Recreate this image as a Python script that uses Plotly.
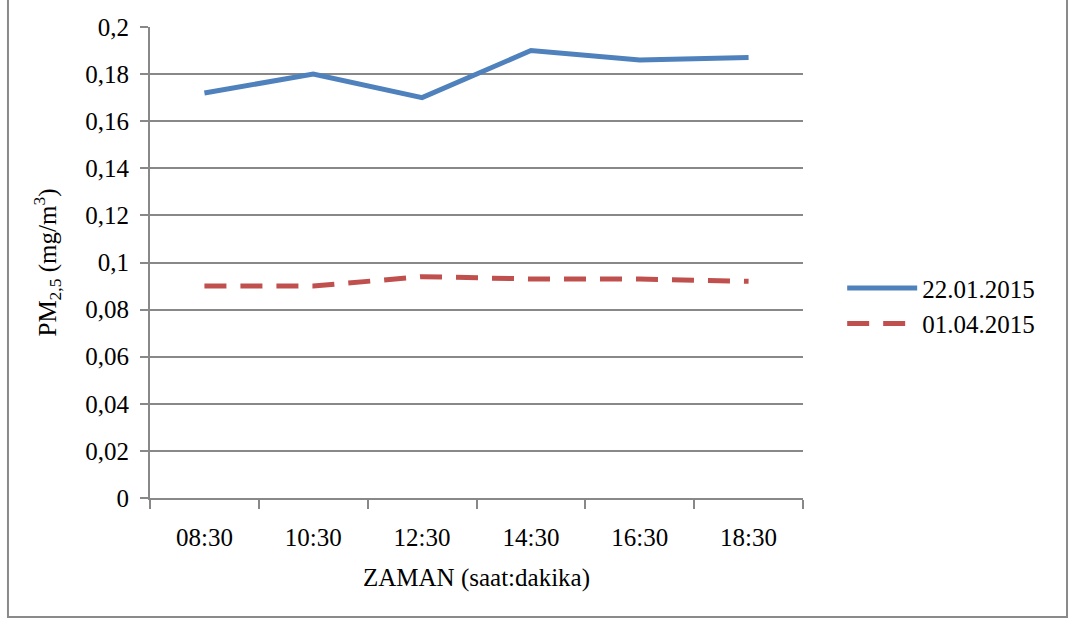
import plotly.graph_objects as go

times = ["08:30", "10:30", "12:30", "14:30", "16:30", "18:30"]
pm_2201 = [0.172, 0.180, 0.170, 0.190, 0.186, 0.187]
pm_0104 = [0.090, 0.090, 0.094, 0.093, 0.093, 0.092]
y_tickvals = [0, 0.02, 0.04, 0.06, 0.08, 0.1, 0.12, 0.14, 0.16, 0.18, 0.2]
y_ticktext = ["0", "0,02", "0,04", "0,06", "0,08", "0,1", "0,12", "0,14", "0,16", "0,18", "0,2"]

FONT = "Liberation Serif"
GRID = "#888888"

fig = go.Figure()
fig.add_trace(go.Scatter(x=times, y=pm_2201, mode="lines", name="22.01.2015",
                         line=dict(color="#4F81BD", width=5)))
fig.add_trace(go.Scatter(x=times, y=pm_0104, mode="lines", name="01.04.2015",
                         line=dict(color="#C0504D", width=5, dash="22px,14px")))

fig.update_layout(
    width=1077, height=619,
    margin=dict(l=150, r=274, t=27, b=121),
    paper_bgcolor="white", plot_bgcolor="white",
    font=dict(family=FONT, size=25, color="black"),
    showlegend=True,
    legend=dict(x=1.06, y=0.408, xanchor="left", yanchor="middle",
                font=dict(family=FONT, size=25, color="black"), itemwidth=70, tracegroupgap=22),
    shapes=[dict(type="rect", xref="paper", yref="paper",
                 x0=-0.2175, x1=1.4043, y0=-0.2527, y1=1.06,
                 line=dict(color="#8a8a8a", width=2), layer="below")],
)
fig.update_xaxes(
    type="category", range=[-0.5, len(times) - 0.5],
    showgrid=False, showline=True, linecolor=GRID, linewidth=2,
    ticks="outside", tickson="boundaries", ticklen=9, tickcolor=GRID, tickwidth=2,
    ticklabelstandoff=16, tickfont=dict(family=FONT, size=25, color="black"),
    title=dict(text="ZAMAN (saat:dakika)", font=dict(family=FONT, size=25, color="black"), standoff=18),
)
fig.update_yaxes(
    range=[0, 0.2], tickvals=y_tickvals, ticktext=y_ticktext,
    showgrid=True, gridcolor=GRID, gridwidth=1.5,
    showline=True, linecolor=GRID, linewidth=2,
    ticks="outside", ticklen=8, tickcolor=GRID, tickwidth=2,
    ticklabelstandoff=6, zeroline=False, tickfont=dict(family=FONT, size=25, color="black"),
    title=dict(text="PM<sub>2,5</sub> (mg/m<sup>3</sup>)", font=dict(family=FONT, size=25, color="black"), standoff=22),
)

fig.write_html("out.html", config={"displayModeBar": False},
               post_script="document.body.style.margin='0';document.body.style.overflow='hidden';")
